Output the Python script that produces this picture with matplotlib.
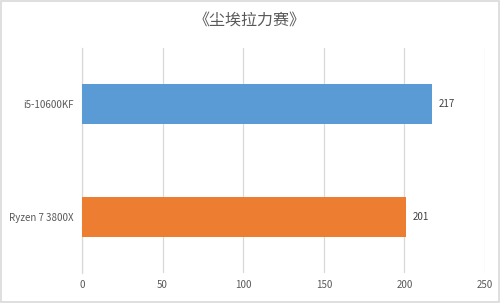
import matplotlib
matplotlib.use("Agg")
import matplotlib.pyplot as plt
from matplotlib.patches import Rectangle

plt.rcParams['font.family'] = ['Noto Sans CJK SC', 'DejaVu Sans']

categories = ["i5-10600KF", "Ryzen 7 3800X"]
values = [217, 201]
colors = ["#5B9BD5", "#ED7D31"]
title = "《尘埃拉力赛》"
xticks = [0, 50, 100, 150, 200, 250]

fig = plt.figure(figsize=(5.0, 3.03), dpi=100)
fig.patch.set_facecolor("white")
fig.add_artist(Rectangle((0.002, 0.003), 0.996, 0.994, transform=fig.transFigure,
                         fill=False, edgecolor="#D9D9D9", linewidth=1.2))
ax = fig.add_axes([0.164, 0.099, 0.806, 0.743])
ypos = list(range(len(categories)))
bars = ax.barh(ypos, values, height=0.356, color=colors, zorder=3)
ax.set_xlim(0, 250)
ax.set_ylim(1.5, -0.5)
ax.set_xticks(xticks)
ax.set_xticklabels([str(t) for t in xticks])
ax.set_yticks(ypos)
ax.set_yticklabels(categories)
ax.grid(axis="x", color="#D9D9D9", linewidth=0.9, zorder=0)
for s in ["top", "right", "bottom"]:
    ax.spines[s].set_visible(False)
ax.spines["left"].set_color("#D9D9D9")
ax.spines["left"].set_linewidth(0.9)
ax.tick_params(axis="both", length=0, colors="#595959", labelsize=7)
ax.tick_params(axis="x", pad=5)
ax.tick_params(axis="y", pad=6)
for b, v in zip(bars, values):
    ax.text(b.get_width() + 4, b.get_y() + b.get_height() / 2, str(v),
            va="center", ha="left", fontsize=7, color="#404040")
fig.text(0.5, 0.935, title, ha="center", va="center", fontsize=11.5, color="#595959")
fig.savefig("out.png", dpi=100)
